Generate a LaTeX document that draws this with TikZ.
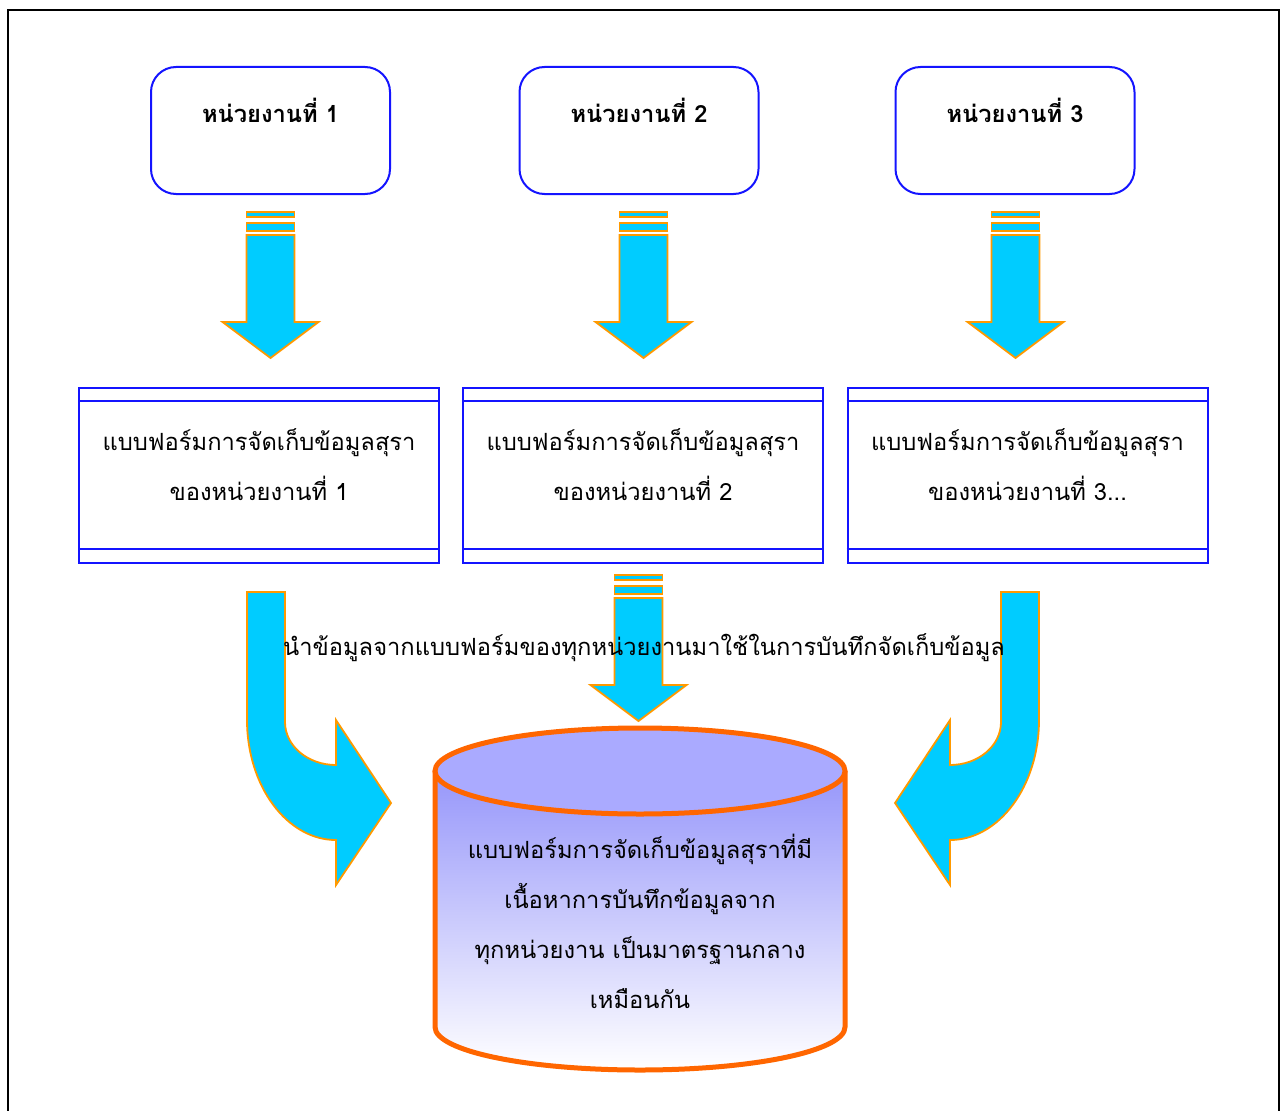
\documentclass[tikz,border=0pt]{standalone}
\usepackage{fontspec}
\setmainfont[Script=Thai]{Loma}
\definecolor{boxblue}{RGB}{20,20,255}
\definecolor{arrfill}{RGB}{0,204,255}
\definecolor{arrline}{RGB}{255,153,0}
\definecolor{cylline}{RGB}{255,102,0}
\definecolor{cyltop}{RGB}{170,170,255}
\definecolor{cylside}{RGB}{150,150,250}
\begin{document}
\begin{tikzpicture}[x=1pt,y=-1pt,
  unitbox/.style={draw=boxblue,line width=2pt,rounded corners=25pt,minimum width=239pt,minimum height=127pt,inner sep=0pt},
  formbox/.style={draw=boxblue,line width=2pt,minimum width=360pt,minimum height=175pt,inner sep=0pt},
  unittext/.style={font=\bfseries\fontsize{23.7}{28}\selectfont,inner sep=0pt},
  formtext/.style={font=\fontsize{23.7}{50}\selectfont,align=center,inner sep=0pt},
  arrowshape/.style={fill=arrfill,draw=arrline,line width=1.8pt,line join=miter},
  striparrow/.pic={
    \filldraw[arrowshape] (-24,0) rectangle (24,5);
    \filldraw[arrowshape] (-24,11) rectangle (24,19);
    \filldraw[arrowshape] (-24,23) -- (24,23) -- (24,110) -- (48,110) -- (0,146) -- (-48,110) -- (-24,110) -- cycle;
  },
  curvearrow/.pic={
    \filldraw[arrowshape] (0,0) -- (38,0) -- (38,130) .. controls (38,154) and (61,173) .. (89,173)
      -- (89,128) -- (144,211) -- (89,293) -- (89,248) .. controls (40,248) and (0,194) .. (0,128) -- cycle;
  }]
\useasboundingbox (0,0) rectangle (1281,1110);
\clip (0,0) rectangle (1281,1110);
\fill[white] (0,0) rectangle (1281,1110);
\draw[line width=2pt] (8,1130) -- (8,10) -- (1279,10) -- (1279,1130);

% unit boxes
\node[unitbox] (u1) at (270.5,130.5) {};
\node[unitbox] (u2) at (639,130.5) {};
\node[unitbox] (u3) at (1015,130.5) {};
\node[unittext] (t1) at (270.5,110) {หน่วยงานที่ 1};
\node[unittext] (t2) at (639,110) {หน่วยงานที่ 2};
\node[unittext] (t3) at (1015,110) {หน่วยงานที่ 3};

% arrows down
\pic at (270.5,212) {striparrow};
\pic at (643.5,212) {striparrow};
\pic at (1015.5,212) {striparrow};

% form boxes
\node[formbox] (f1) at (259,475.5) {};
\node[formbox] (f2) at (643,475.5) {};
\node[formbox] (f3) at (1027.5,475.5) {};
\foreach \f in {f1,f2,f3}{
  \draw[boxblue,line width=2pt] ([yshift=-14pt]\f.north west) -- ([yshift=-14pt]\f.north east);
  \draw[boxblue,line width=2pt] ([yshift=15pt]\f.south west) -- ([yshift=15pt]\f.south east);
}
\node[formtext] (ft1) at (259,465) {แบบฟอร์มการจัดเก็บข้อมูลสุรา\\ของหน่วยงานที่ 1};
\node[formtext] (ft2) at (643,465) {แบบฟอร์มการจัดเก็บข้อมูลสุรา\\ของหน่วยงานที่ 2};
\node[formtext] (ft3) at (1027.5,465) {แบบฟอร์มการจัดเก็บข้อมูลสุรา\\ของหน่วยงานที่ 3...};

% lower arrows
\pic at (638.5,575) {striparrow};
\pic at (247,592) {curvearrow};
\pic[xscale=-1] at (1039,592) {curvearrow};

% middle text
\node[font=\fontsize{23.7}{28}\selectfont,inner sep=0pt] (mid) at (644,648) {นำข้อมูลจากแบบฟอร์มของทุกหน่วยงานมาใช้ในการบันทึกจัดเก็บข้อมูล};

% cylinder
\shade[top color=cylside,bottom color=white] (435,771) -- (435,1027) .. controls (435,1051) and (527,1070) .. (640,1070) .. controls (753,1070) and (845,1051) .. (845,1027) -- (845,771) -- cycle;
\draw[cylline,line width=5pt] (435,771) -- (435,1027) .. controls (435,1051) and (527,1070) .. (640,1070) .. controls (753,1070) and (845,1051) .. (845,1027) -- (845,771);
\filldraw[fill=cyltop,draw=cylline,line width=5pt] (640,771) ellipse[x radius=205,y radius=43];
\node[formtext] (db) at (640,921) {แบบฟอร์มการจัดเก็บข้อมูลสุราที่มี\\เนื้อหาการบันทึกข้อมูลจาก\\ทุกหน่วยงาน เป็นมาตรฐานกลาง\\เหมือนกัน};
\end{tikzpicture}
\end{document}
